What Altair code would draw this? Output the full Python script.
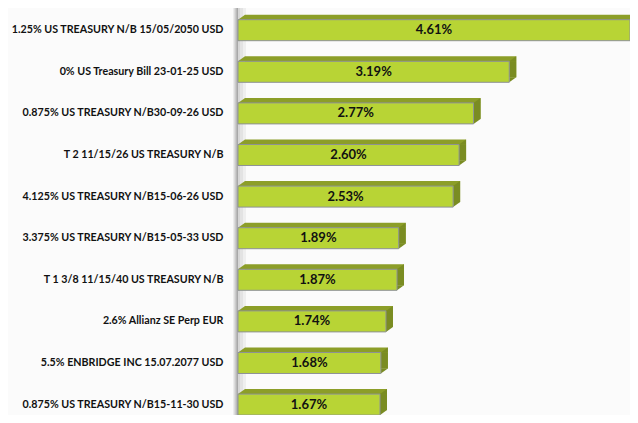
import altair as alt
import pandas as pd

names = [
    "1.25% US TREASURY N/B 15/05/2050 USD",
    "0% US Treasury Bill 23-01-25 USD",
    "0.875% US TREASURY N/B30-09-26 USD",
    "T 2 11/15/26 US TREASURY N/B",
    "4.125% US TREASURY N/B15-06-26 USD",
    "3.375% US TREASURY N/B15-05-33 USD",
    "T 1 3/8 11/15/40 US TREASURY N/B",
    "2.6% Allianz SE Perp EUR",
    "5.5% ENBRIDGE INC 15.07.2077 USD",
    "0.875% US TREASURY N/B15-11-30 USD",
]
values = [4.61, 3.19, 2.77, 2.60, 2.53, 1.89, 1.87, 1.74, 1.68, 1.67]
labels = [f"{v:.2f}%" for v in values]

df = pd.DataFrame({"name": names, "value": values, "label": labels,
                   "zero": [0.0] * len(values)})
df["half"] = df["value"] / 2

W, H = 392, 407
FRONT = "#b8d435"
TOP = "#8c9e28"
SIDE = "#7a8c22"
FONT = "Lato"

yenc = alt.Y(
    "name:N",
    sort=None,
    title=None,
    scale=alt.Scale(paddingInner=0.5, paddingOuter=0.1418, align=1),
    axis=alt.Axis(
        ticks=False, domain=False, labelFontSize=10.7, labelFontWeight="bold",
        labelFont=FONT, labelColor="#111111", labelPadding=15, labelLimit=300,
    ),
)
xscale = alt.Scale(domain=[0, 4.61], nice=False, zero=True)
xenc = alt.X("value:Q", scale=xscale, axis=None)
x0 = alt.X("zero:Q", scale=xscale, axis=None)

base = alt.Chart(df)

# wall strips (approximate shading)
wall_strips = []
wall_cols = [(-5, -4, "#ececec"), (-4, -3, "#dcdcdc"), (-3, -2, "#cbcbcb"),
             (-2, -1, "#b9b9b9"), (-1, 0, "#a8a8a8"),
             (0, 2, "#d6d6d6"), (2, 5, "#e3e3e3"), (5, 8, "#efefef")]
for a, b, c in wall_cols:
    wall_strips.append(
        base.mark_rect(color=c).encode(
            x=alt.value(a), x2=alt.value(b), y=alt.value(-4), y2=alt.value(H)
        )
    )

top_bar = base.mark_bar(color=TOP, size=21, xOffset=7, x2Offset=7, yOffset=-5).encode(
    x=xenc, x2="zero:Q", y=yenc
)
side_bar = base.mark_bar(color=SIDE, size=16, xOffset=0, x2Offset=7, yOffset=-2.5).encode(
    x=xenc, x2="value:Q", y=yenc
)
tri_tl = base.mark_point(
    shape="M-1,0.714 L1,-0.714 L1,0.714 Z", size=49, filled=True, opacity=1,
    color=TOP, strokeWidth=0, xOffset=3.5, yOffset=-13,
).encode(x=x0, y=yenc)
tri_tr = base.mark_point(
    shape="M1,-0.714 L1,0.714 L-1,0.714 Z", size=49, filled=True, opacity=1,
    color=SIDE, strokeWidth=0, xOffset=3.5, yOffset=-13,
).encode(x=xenc, y=yenc)
tri_br = base.mark_point(
    shape="M-1,-0.714 L1,-0.714 L-1,0.714 Z", size=49, filled=True, opacity=1,
    color=SIDE, strokeWidth=0, xOffset=3.5, yOffset=8,
).encode(x=xenc, y=yenc)

front = base.mark_bar(color=FRONT, size=21, stroke="#8e9296", strokeWidth=1).encode(
    x=xenc, x2="zero:Q", y=yenc
)

text = base.mark_text(
    font=FONT, fontSize=13, fontWeight="bold", color="#111111", baseline="middle"
).encode(x=alt.X("half:Q", scale=xscale, axis=None), y=yenc, text="label:N")

chart = alt.layer(
    *wall_strips, top_bar, side_bar, tri_tl, tri_tr, tri_br, front, text
).properties(
    width=W, height=H, autosize="none",
    padding={"left": 230, "top": 0, "right": 0, "bottom": 0},
    background="#fbfbfb",
).configure_view(stroke=None)

chart.save("out.html", embed_options={"renderer": "svg", "actions": False})
